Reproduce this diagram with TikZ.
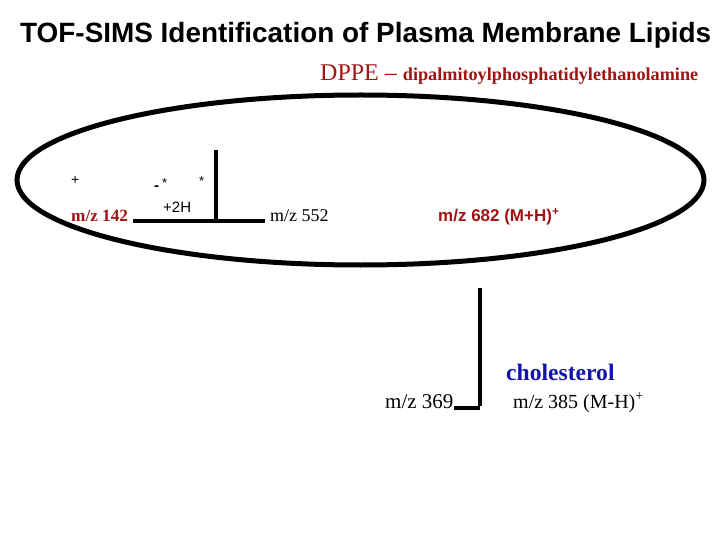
\documentclass[tikz,border=0pt]{standalone}
\usepackage{fontspec}
\setmainfont{Liberation Serif}
\newfontfamily\arialf{Liberation Sans}
\definecolor{dred}{RGB}{160,20,20}
\definecolor{dblue}{RGB}{20,20,170}
\begin{document}
\begin{tikzpicture}[x=1pt,y=-1pt,
  txt/.style={inner sep=0pt,anchor=base west},
  thick line/.style={line width=4pt},
  oval/.style={line width=5pt}]
\useasboundingbox (0,0) rectangle (720,540);
% title
\node[txt] (title) at (20,43) {\arialf\bfseries\fontsize{27.9}{30}\selectfont TOF-SIMS Identification of Plasma Membrane Lipids};
\node[txt,text=dred] (dppe) at (320,81) {\fontsize{24}{26}\selectfont DPPE --\ \fontsize{18.2}{20}\selectfont\bfseries dipalmitoylphosphatidylethanolamine};
% ellipse
\draw[oval] (360.5,180) ellipse [x radius=343.5, y radius=85];
% labels inside
\node[txt] (plus) at (71,185) {\arialf\fontsize{14}{16}\selectfont +};
\node[txt] (minus) at (154,191) {\arialf\bfseries\fontsize{15}{17}\selectfont -};
\node[txt] (star1) at (162,188) {\arialf\fontsize{13}{15}\selectfont *};
\node[txt] (star2) at (199,186) {\arialf\fontsize{13}{15}\selectfont *};
\node[txt] (twoH) at (163,213) {\arialf\fontsize{15}{17}\selectfont +2H};
\node[txt,text=dred] (m142) at (71,222) {\fontsize{17.2}{19}\selectfont\bfseries m/z 142};
\node[txt] (m552) at (270,222) {\fontsize{18}{20}\selectfont m/z 552};
\node[txt,text=dred] (m682) at (438,222) {\arialf\bfseries\fontsize{17}{19}\selectfont m/z 682 (M+H)\textsuperscript{+}};
% DPPE stick
\coordinate (hl) at (133,221);
\coordinate (hr) at (265,221);
\coordinate (vt) at (216,150);
\coordinate (vb) at (216,221);
\draw[thick line] (hl) -- (hr);
\draw[thick line] (vt) -- (vb);
% cholesterol
\node[txt,text=dblue] (chol) at (506,380) {\fontsize{23.6}{26}\selectfont\bfseries cholesterol};
\node[txt] (m369) at (385,408) {\fontsize{21}{23}\selectfont m/z 369};
\node[txt] (m385) at (513,408) {\fontsize{20}{22}\selectfont m/z 385 (M-H)\textsuperscript{+}};
\coordinate (ct) at (480,288);
\coordinate (cc) at (480,407.5);
\draw[thick line] (ct) -- ([yshift=2pt]cc) ;
\draw[thick line] (m369.base east) ++(0,-0.5) coordinate (ce) (ce) -- (cc);
\end{tikzpicture}
\end{document}
